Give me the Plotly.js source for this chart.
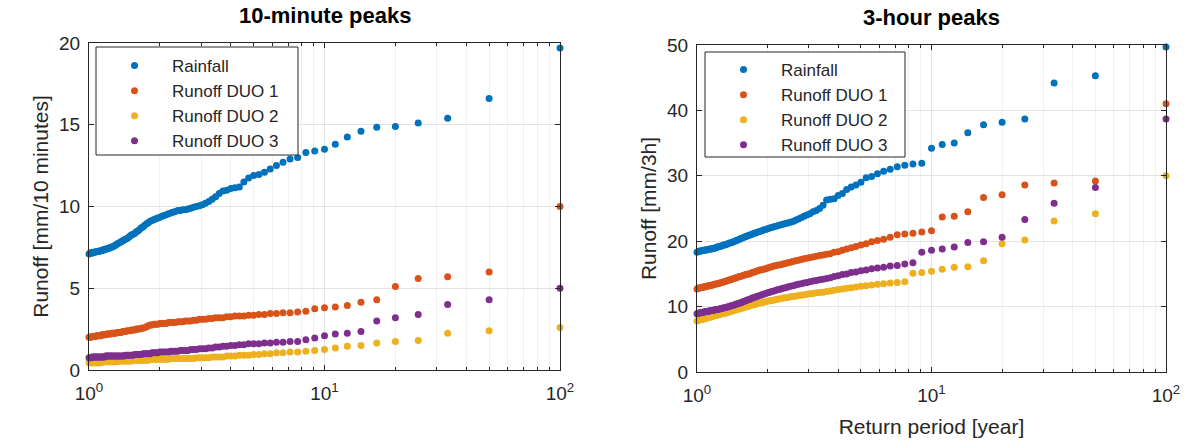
<!DOCTYPE html>
<html>
<head>
<meta charset="utf-8">
<script src="https://cdn.plot.ly/plotly-3.0.1.min.js"></script>
<style>html,body{margin:0;padding:0;background:#fff;}#chart{width:1187px;height:441px;}</style>
</head>
<body>
<div id="chart"></div>
<script>
// Return periods [year] (rank-based plotting positions)
const returnPeriod = [
  100, 50, 33.333, 25, 20, 16.667, 14.286, 12.5, 11.111, 10,
  9.091, 8.333, 7.692, 7.143, 6.667, 6.25, 5.882, 5.556, 5.263, 5,
  4.762, 4.545, 4.348, 4.167, 4, 3.846, 3.704, 3.571, 3.448, 3.333,
  3.226, 3.125, 3.030, 2.941, 2.857, 2.778, 2.703, 2.632, 2.564, 2.5,
  2.439, 2.381, 2.326, 2.273, 2.222, 2.174, 2.128, 2.083, 2.041, 2,
  1.961, 1.923, 1.887, 1.852, 1.818, 1.786, 1.754, 1.724, 1.695, 1.667,
  1.639, 1.613, 1.587, 1.5625, 1.538, 1.515, 1.493, 1.471, 1.449, 1.429,
  1.408, 1.389, 1.370, 1.351, 1.333, 1.316, 1.299, 1.282, 1.266, 1.25,
  1.235, 1.220, 1.205, 1.190, 1.176, 1.163, 1.149, 1.136, 1.124, 1.111,
  1.099, 1.087, 1.075, 1.064, 1.053, 1.042, 1.031, 1.020, 1.010, 1
];

const seriesNames = ['Rainfall', 'Runoff DUO 1', 'Runoff DUO 2', 'Runoff DUO 3'];

// 10-minute peaks [mm/10 minutes]
const rain10 = [
  19.7, 16.6, 15.4, 15.1, 14.9, 14.85, 14.6, 14.25, 13.8, 13.5,
  13.4, 13.3, 13.0, 12.9, 12.7, 12.5, 12.3, 12.1, 11.95, 11.9,
  11.75, 11.5, 11.2, 11.15, 11.1, 11.0, 10.95, 10.8, 10.6, 10.45,
  10.3, 10.2, 10.1, 10.05, 10.0, 9.95, 9.9, 9.85, 9.8, 9.8,
  9.75, 9.75, 9.7, 9.65, 9.6, 9.55, 9.5, 9.45, 9.4, 9.35,
  9.3, 9.25, 9.2, 9.15, 9.1, 9.0, 8.95, 8.85, 8.75, 8.7,
  8.6, 8.5, 8.45, 8.35, 8.3, 8.25, 8.2, 8.1, 8.05, 8.0,
  7.95, 7.9, 7.85, 7.8, 7.75, 7.7, 7.65, 7.6, 7.55, 7.5,
  7.5, 7.45, 7.45, 7.4, 7.4, 7.35, 7.35, 7.3, 7.3, 7.3,
  7.25, 7.25, 7.25, 7.2, 7.2, 7.2, 7.15, 7.15, 7.15, 7.1
];
const duo1_10 = [
  10.0, 6.0, 5.7, 5.6, 5.1, 4.3, 4.15, 3.95, 3.85, 3.8,
  3.75, 3.6, 3.55, 3.5, 3.5, 3.45, 3.45, 3.4, 3.4, 3.35,
  3.35, 3.3, 3.3, 3.3, 3.25, 3.25, 3.2, 3.2, 3.2, 3.15,
  3.15, 3.1, 3.1, 3.1, 3.05, 3.05, 3.0, 3.0, 3.0, 2.95,
  2.95, 2.95, 2.9, 2.9, 2.9, 2.9, 2.85, 2.85, 2.85, 2.85,
  2.8, 2.8, 2.8, 2.75, 2.75, 2.7, 2.65, 2.6, 2.55, 2.55,
  2.5, 2.5, 2.5, 2.45, 2.45, 2.45, 2.4, 2.4, 2.4, 2.35,
  2.35, 2.35, 2.3, 2.3, 2.3, 2.3, 2.25, 2.25, 2.25, 2.25,
  2.2, 2.2, 2.2, 2.2, 2.15, 2.15, 2.15, 2.15, 2.1, 2.1,
  2.1, 2.1, 2.1, 2.05, 2.05, 2.05, 2.05, 2.0, 2.0, 2.0
];
const duo2_10 = [
  2.6, 2.4, 2.25, 1.8, 1.75, 1.65, 1.5, 1.45, 1.35, 1.25,
  1.2, 1.15, 1.1, 1.1, 1.05, 1.05, 1.0, 1.0, 0.95, 0.95,
  0.9, 0.9, 0.9, 0.85, 0.85, 0.85, 0.8, 0.8, 0.8, 0.8,
  0.75, 0.75, 0.75, 0.75, 0.75, 0.7, 0.7, 0.7, 0.7, 0.7,
  0.7, 0.7, 0.7, 0.7, 0.7, 0.65, 0.65, 0.65, 0.65, 0.65,
  0.65, 0.65, 0.65, 0.65, 0.65, 0.6, 0.6, 0.6, 0.6, 0.6,
  0.6, 0.6, 0.6, 0.6, 0.6, 0.55, 0.55, 0.55, 0.55, 0.55,
  0.55, 0.55, 0.55, 0.55, 0.55, 0.5, 0.5, 0.5, 0.5, 0.5,
  0.5, 0.5, 0.5, 0.5, 0.5, 0.5, 0.5, 0.5, 0.45, 0.45,
  0.45, 0.45, 0.45, 0.45, 0.45, 0.45, 0.45, 0.45, 0.45, 0.45
];
const duo3_10 = [
  5.0, 4.3, 4.0, 3.4, 3.2, 3.0, 2.35, 2.25, 2.2, 2.1,
  1.95, 1.85, 1.75, 1.75, 1.7, 1.7, 1.65, 1.65, 1.6, 1.6,
  1.6, 1.55, 1.55, 1.5, 1.5, 1.45, 1.45, 1.4, 1.4, 1.35,
  1.35, 1.3, 1.3, 1.3, 1.25, 1.25, 1.25, 1.2, 1.2, 1.2,
  1.2, 1.15, 1.15, 1.15, 1.15, 1.1, 1.1, 1.1, 1.1, 1.1,
  1.05, 1.05, 1.05, 1.05, 1.0, 1.0, 1.0, 1.0, 1.0, 0.95,
  0.95, 0.95, 0.95, 0.95, 0.9, 0.9, 0.9, 0.9, 0.9, 0.9,
  0.85, 0.85, 0.85, 0.85, 0.85, 0.85, 0.85, 0.85, 0.85, 0.85,
  0.85, 0.85, 0.85, 0.85, 0.85, 0.8, 0.8, 0.8, 0.8, 0.8,
  0.8, 0.8, 0.8, 0.8, 0.8, 0.8, 0.8, 0.75, 0.75, 0.75
];

// 3-hour peaks [mm/3h]
const rain3h = [
  49.7, 45.3, 44.2, 38.7, 38.2, 37.8, 36.6, 35.0, 34.8, 34.2,
  31.9, 31.8, 31.6, 31.4, 31.0, 30.7, 30.3, 29.9, 29.7, 29.0,
  28.6, 28.3, 27.9, 27.3, 27.0, 26.5, 26.4, 26.3, 25.5, 25.0,
  24.7, 24.5, 24.2, 24.0, 23.8, 23.6, 23.4, 23.2, 23.0, 22.9,
  22.8, 22.7, 22.6, 22.5, 22.4, 22.3, 22.2, 22.1, 22.0, 21.9,
  21.8, 21.7, 21.6, 21.5, 21.4, 21.3, 21.2, 21.1, 21.0, 20.9,
  20.8, 20.7, 20.6, 20.5, 20.4, 20.3, 20.2, 20.1, 20.0, 19.9,
  19.8, 19.75, 19.7, 19.6, 19.5, 19.45, 19.4, 19.3, 19.25, 19.2,
  19.15, 19.1, 19.0, 18.95, 18.9, 18.85, 18.8, 18.8, 18.75, 18.7,
  18.7, 18.65, 18.6, 18.6, 18.55, 18.5, 18.5, 18.45, 18.4, 18.3
];
const duo1_3h = [
  41.0, 29.2, 28.9, 28.6, 27.1, 26.7, 24.5, 23.8, 23.7, 21.6,
  21.4, 21.2, 21.1, 21.0, 20.6, 20.3, 20.1, 19.9, 19.6, 19.4,
  19.2, 19.0, 18.8, 18.6, 18.4, 18.3, 18.1, 18.0, 17.9, 17.8,
  17.7, 17.6, 17.5, 17.4, 17.3, 17.2, 17.1, 17.0, 16.9, 16.8,
  16.7, 16.6, 16.5, 16.4, 16.35, 16.3, 16.2, 16.1, 16.0, 15.9,
  15.8, 15.7, 15.65, 15.6, 15.5, 15.4, 15.3, 15.2, 15.1, 15.0,
  14.95, 14.9, 14.8, 14.7, 14.65, 14.6, 14.5, 14.4, 14.35, 14.3,
  14.2, 14.1, 14.05, 14.0, 13.9, 13.85, 13.8, 13.7, 13.65, 13.6,
  13.55, 13.5, 13.45, 13.4, 13.35, 13.3, 13.25, 13.2, 13.2, 13.15,
  13.1, 13.05, 13.0, 13.0, 12.95, 12.9, 12.9, 12.85, 12.8, 12.7
];
const duo2_3h = [
  30.0, 24.2, 23.1, 20.2, 19.6, 17.0, 16.1, 16.0, 15.7, 15.4,
  15.2, 15.1, 13.8, 13.7, 13.6, 13.5, 13.4, 13.3, 13.2, 13.1,
  13.0, 12.9, 12.8, 12.7, 12.6, 12.5, 12.4, 12.3, 12.2, 12.15,
  12.1, 12.0, 11.95, 11.9, 11.8, 11.75, 11.7, 11.6, 11.55, 11.5,
  11.4, 11.35, 11.3, 11.2, 11.15, 11.1, 11.0, 10.95, 10.9, 10.8,
  10.75, 10.7, 10.6, 10.55, 10.5, 10.4, 10.3, 10.25, 10.2, 10.1,
  10.0, 9.95, 9.9, 9.8, 9.7, 9.65, 9.6, 9.5, 9.45, 9.4,
  9.3, 9.25, 9.2, 9.1, 9.05, 9.0, 8.95, 8.9, 8.85, 8.8,
  8.75, 8.7, 8.65, 8.6, 8.55, 8.5, 8.45, 8.4, 8.35, 8.3,
  8.25, 8.2, 8.15, 8.1, 8.05, 8.0, 8.0, 7.95, 7.9, 7.8
];
const duo3_3h = [
  38.7, 28.2, 25.8, 23.3, 20.6, 19.9, 19.8, 19.1, 18.8, 18.6,
  18.3, 16.7, 16.5, 16.3, 16.2, 16.0, 15.9, 15.8, 15.6, 15.5,
  15.3, 15.2, 15.0, 14.9, 14.7, 14.6, 14.4, 14.3, 14.2, 14.1,
  14.0, 13.9, 13.8, 13.7, 13.6, 13.5, 13.4, 13.3, 13.2, 13.1,
  13.0, 12.9, 12.8, 12.7, 12.6, 12.5, 12.4, 12.3, 12.2, 12.1,
  12.0, 11.9, 11.8, 11.7, 11.6, 11.5, 11.4, 11.3, 11.2, 11.1,
  11.0, 10.9, 10.8, 10.7, 10.6, 10.5, 10.45, 10.4, 10.3, 10.2,
  10.15, 10.1, 10.0, 9.95, 9.9, 9.85, 9.8, 9.75, 9.7, 9.65,
  9.6, 9.55, 9.5, 9.5, 9.45, 9.4, 9.4, 9.35, 9.3, 9.3,
  9.25, 9.2, 9.2, 9.15, 9.1, 9.1, 9.05, 9.0, 9.0, 8.9
];

const xTickVals = [1, 10, 100];
const xTickText = ['10<sup>0</sup>', '10<sup>1</sup>', '10<sup>2</sup>'];

const colors = ['#0072BD', '#D95319', '#EDB120', '#7E2F8E'];
const FONT = 'Liberation Sans, Arial, Helvetica, sans-serif';
const AXC = '#262626';
const W = 1187, H = 441;

const sets10 = [rain10, duo1_10, duo2_10, duo3_10];
const sets3h = [rain3h, duo1_3h, duo2_3h, duo3_3h];

const traces = [];
sets10.forEach((ys, i) => traces.push({
  x: returnPeriod, y: ys, type: 'scatter', mode: 'markers', name: seriesNames[i],
  xaxis: 'x', yaxis: 'y', legend: 'legend',
  cliponaxis: false, marker: {color: colors[i], size: 7}
}));
sets3h.forEach((ys, i) => traces.push({
  x: returnPeriod, y: ys, type: 'scatter', mode: 'markers', name: seriesNames[i],
  xaxis: 'x2', yaxis: 'y2', legend: 'legend2',
  cliponaxis: false, marker: {color: colors[i], size: 7}
}));

const minorVals = [2,3,4,5,6,7,8,9,20,30,40,50,60,70,80,90];

function xAxis(domain, anchor) {
  return {
    type: 'log', range: [0, 2], domain: domain, anchor: anchor,
    tickvals: xTickVals, ticktext: xTickText,
    ticks: 'inside', ticklen: 5, tickcolor: AXC, tickwidth: 1,
    ticklabelstandoff: 6,
    showline: true, linecolor: AXC, linewidth: 1, mirror: 'allticks',
    showgrid: true, gridcolor: '#e3e3e3', gridwidth: 1,
    zeroline: false,
    tickfont: {family: FONT, size: 19, color: AXC},
    minor: {tickvals: minorVals, ticks: 'inside', ticklen: 3, tickcolor: AXC,
            showgrid: true, gridcolor: '#efefef', gridwidth: 1}
  };
}
function yAxis(domain, anchor, range, dtick, title) {
  return {
    range: range, dtick: dtick, domain: domain, anchor: anchor,
    ticks: 'inside', ticklen: 5, tickcolor: AXC, tickwidth: 1,
    ticklabelstandoff: 4,
    showline: true, linecolor: AXC, linewidth: 1, mirror: 'allticks',
    showgrid: true, gridcolor: '#e3e3e3', gridwidth: 1, zeroline: false,
    tickfont: {family: FONT, size: 19, color: AXC},
    title: {text: title, font: {family: FONT, size: 21, color: AXC}, standoff: 4}
  };
}

const legendBase = {
  xanchor: 'left', yanchor: 'top', bgcolor: 'rgba(0,0,0,0)',
  borderwidth: 0, traceorder: 'normal',
  itemwidth: 65, font: {family: FONT, size: 17, color: AXC}
};

function boxShape(x0, x1, yTop, yBot) {
  return {type: 'rect', xref: 'paper', yref: 'paper', layer: 'above',
          x0: x0 / W, x1: x1 / W, y0: (H - yBot) / H, y1: (H - yTop) / H,
          fillcolor: '#ffffff', line: {color: AXC, width: 1}};
}

const layout = {
  width: W, height: H,
  margin: {l: 0, r: 0, t: 0, b: 0},
  paper_bgcolor: '#ffffff', plot_bgcolor: '#ffffff',
  showlegend: true,
  xaxis: xAxis([89/W, 560/W], 'y'),
  yaxis: yAxis([71/H, 398/H], 'x', [0, 20], 5, 'Runoff [mm/10 minutes]'),
  xaxis2: Object.assign(xAxis([697/W, 1166/W], 'y2'), {
    title: {text: 'Return period [year]', font: {family: FONT, size: 21, color: AXC}, standoff: 14}
  }),
  yaxis2: yAxis([69/H, 396/H], 'x2', [0, 50], 10, 'Runoff [mm/3h]'),
  legend: Object.assign({x: 97/W, y: (H - 48) / H}, legendBase),
  legend2: Object.assign({x: 706/W, y: (H - 52) / H}, legendBase),
  shapes: [boxShape(96, 298, 47, 155), boxShape(705, 905, 52, 157)],
  annotations: [
    {text: '<b>10-minute peaks</b>', xref: 'paper', yref: 'paper',
     x: (89 + 560) / 2 / W, y: (H - 15) / H, xanchor: 'center', yanchor: 'middle',
     showarrow: false, font: {family: FONT, size: 22, color: '#000'}},
    {text: '<b>3-hour peaks</b>', xref: 'paper', yref: 'paper',
     x: (697 + 1166) / 2 / W, y: (H - 17) / H, xanchor: 'center', yanchor: 'middle',
     showarrow: false, font: {family: FONT, size: 22, color: '#000'}}
  ]
};

Plotly.newPlot('chart', traces, layout, {staticPlot: true, displayModeBar: false});
</script>
</body>
</html>
